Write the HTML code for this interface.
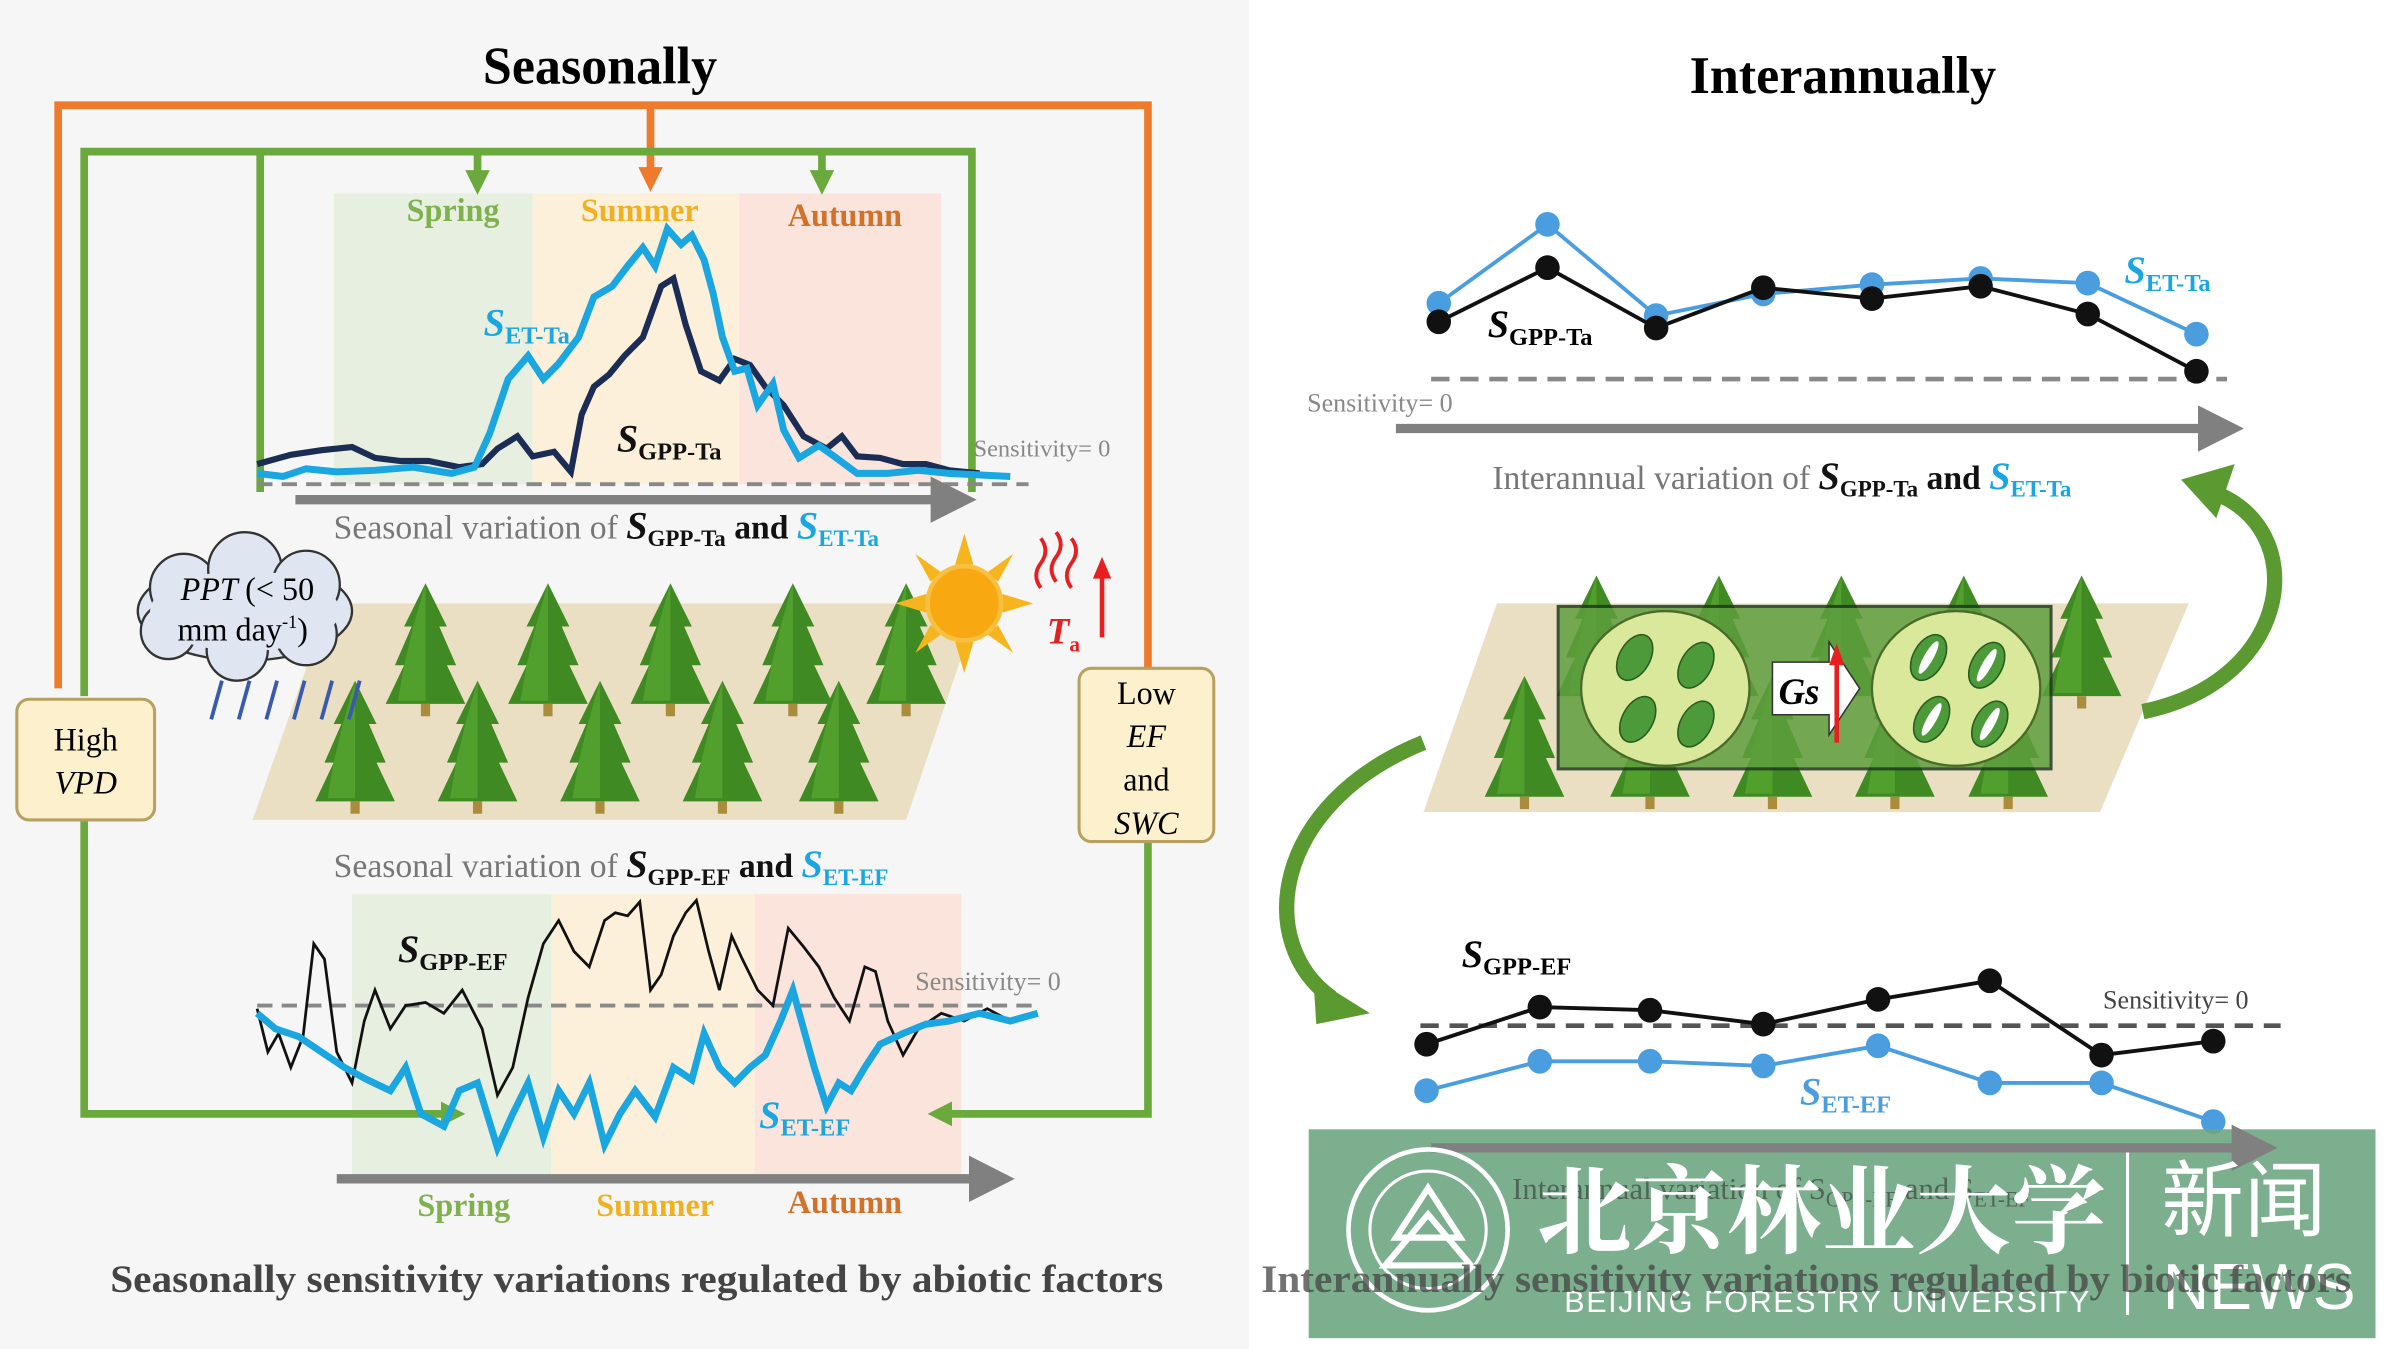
<!DOCTYPE html>
<html><head><meta charset="utf-8"><style>
html,body{margin:0;padding:0;background:#fff;}
svg{display:block;}
</style></head><body>
<svg width="2400" height="1349" viewBox="0 0 1568 872" preserveAspectRatio="none" xmlns="http://www.w3.org/2000/svg" font-family="Liberation Serif, serif">
<defs>
<marker id="ag" markerWidth="16" markerHeight="16" refX="8" refY="8" orient="auto" markerUnits="userSpaceOnUse"><path d="M0,0 L16,8 L0,16 Z" fill="#6aaa3c"/></marker>
<marker id="ao" markerWidth="16" markerHeight="16" refX="8" refY="8" orient="auto" markerUnits="userSpaceOnUse"><path d="M0,0 L16,8 L0,16 Z" fill="#ee7a2c"/></marker>
<marker id="agr" markerWidth="5" markerHeight="5" refX="2" refY="2.5" orient="auto" markerUnits="strokeWidth"><path d="M0,0 L5,2.5 L0,5 Z" fill="#808080"/></marker>
<g id="tree"><path d="M0,-48 L-14,-20 L-9,-20 L-20,5 L-14,5 L-26,30 L26,30 L14,5 L20,5 L9,-20 L14,-20 Z" fill="#3f8a22"/><path d="M0,-48 L-8,-20 L-14,5 L-18,28 L0,28 Z" fill="#5aa832" opacity=".7"/><rect x="-3" y="30" width="6" height="8" fill="#a98c3c"/></g>
</defs>
<rect x="0" y="0" width="816" height="872" fill="#f6f6f6"/>
<rect x="816" y="0" width="752" height="872" fill="#fff"/>

<text x="392" y="54" font-size="34" font-weight="bold" text-anchor="middle">Seasonally</text>
<text x="1204" y="60" font-size="34" font-weight="bold" text-anchor="middle">Interannually</text>

<rect x="218" y="125" width="130" height="188" fill="#e7efe1"/>
<rect x="348" y="125" width="135" height="188" fill="#fcf0da"/>
<rect x="483" y="125" width="132" height="188" fill="#fbe4dc"/>
<text x="296" y="143" font-size="21" font-weight="bold" fill="#7fb24e" text-anchor="middle">Spring</text>
<text x="418" y="143" font-size="21" font-weight="bold" fill="#f0b020" text-anchor="middle">Summer</text>
<text x="552" y="146" font-size="21" font-weight="bold" fill="#d2722a" text-anchor="middle">Autumn</text>

<rect x="230" y="578" width="130" height="182" fill="#e7efe1"/>
<rect x="360" y="578" width="133" height="182" fill="#fcf0da"/>
<rect x="493" y="578" width="135" height="182" fill="#fbe4dc"/>

<polyline points="38,445 38,68 750,68 750,432" fill="none" stroke="#ee7a2c" stroke-width="5"/>
<line x1="425" y1="68" x2="425" y2="116" stroke="#ee7a2c" stroke-width="5" marker-end="url(#ao)"/>
<polyline points="55,450 55,98 635,98 635,318" fill="none" stroke="#6aaa3c" stroke-width="5"/>
<line x1="170" y1="98" x2="170" y2="318" stroke="#6aaa3c" stroke-width="5"/>
<line x1="312" y1="98" x2="312" y2="118" stroke="#6aaa3c" stroke-width="5" marker-end="url(#ag)"/>
<line x1="537" y1="98" x2="537" y2="118" stroke="#6aaa3c" stroke-width="5" marker-end="url(#ag)"/>
<polyline points="55,530 55,720 296,720" fill="none" stroke="#6aaa3c" stroke-width="5" marker-end="url(#ag)"/>
<polyline points="750,542 750,720 614,720" fill="none" stroke="#6aaa3c" stroke-width="5" marker-end="url(#ag)"/>

<line x1="168" y1="313" x2="672" y2="313" stroke="#888" stroke-width="2.5" stroke-dasharray="10,6"/>
<line x1="193" y1="323" x2="620" y2="323" stroke="#808080" stroke-width="6" marker-end="url(#agr)"/>
<polyline points="168,300 190,294 210,291 230,289 245,296 262,298 280,298 300,302 315,300 325,290 338,282 348,295 362,292 373,305 380,268 388,250 398,242 408,230 420,218 432,185 440,180 448,210 458,240 470,246 480,232 490,236 500,250 512,262 525,282 540,290 550,282 560,295 575,296 590,300 605,300 620,304 640,306" fill="none" stroke="#1b2d54" stroke-width="4"/>
<polyline points="168,306 185,308 200,303 220,305 245,304 270,302 295,306 310,302 320,280 332,245 345,230 355,245 365,235 378,218 388,192 400,185 410,172 420,160 428,172 436,148 445,158 452,152 460,168 466,190 472,218 480,240 488,238 495,262 505,248 512,278 522,296 535,288 545,295 560,306 580,306 600,304 620,306 660,308" fill="none" stroke="#1aa6e0" stroke-width="4.5"/>
<text x="316" y="217" font-size="25" font-style="italic" font-weight="bold" fill="#1aa6e0">S<tspan font-size="16" dy="5" font-style="normal">ET-Ta</tspan></text>
<text x="403" y="292" font-size="25" font-style="italic" font-weight="bold" fill="#111">S<tspan font-size="16" dy="5" font-style="normal">GPP-Ta</tspan></text>
<text x="636" y="295" font-size="16" fill="#888">Sensitivity= 0</text>
<text x="218" y="348" font-size="22" fill="#777">Seasonal variation of <tspan fill="#111" font-style="italic" font-weight="bold" font-size="25">S</tspan><tspan fill="#111" font-size="15" dy="5" font-weight="bold">GPP-Ta</tspan><tspan dy="-5" fill="#111" font-weight="bold"> and </tspan><tspan fill="#1aa6e0" font-style="italic" font-weight="bold" font-size="25">S</tspan><tspan fill="#1aa6e0" font-size="15" dy="5" font-weight="bold">ET-Ta</tspan></text>

<polygon points="215,390 640,390 592,530 165,530" fill="#ebdfc3"/>
<use href="#tree" x="278" y="425"/><use href="#tree" x="358" y="425"/><use href="#tree" x="438" y="425"/><use href="#tree" x="518" y="425"/><use href="#tree" x="592" y="425"/>
<use href="#tree" x="232" y="488"/><use href="#tree" x="312" y="488"/><use href="#tree" x="392" y="488"/><use href="#tree" x="472" y="488"/><use href="#tree" x="548" y="488"/>

<g fill="#dfe6f1" stroke="#333" stroke-width="1.5">
<ellipse cx="160" cy="395" rx="70" ry="32"/>
<circle cx="120" cy="380" r="22"/><circle cx="160" cy="368" r="24"/><circle cx="200" cy="378" r="22"/><circle cx="110" cy="408" r="18"/><circle cx="200" cy="410" r="20"/><circle cx="155" cy="420" r="20"/>
</g>
<ellipse cx="160" cy="395" rx="62" ry="26" fill="#dfe6f1"/>
<text x="118" y="388" font-size="21" font-style="italic">PPT <tspan font-style="normal">(&lt; 50</tspan></text>
<text x="116" y="414" font-size="21">mm day<tspan font-size="12" dy="-8">-1</tspan><tspan dy="8">)</tspan></text>
<g stroke="#3a5ab0" stroke-width="2.5"><line x1="145" y1="440" x2="138" y2="465"/><line x1="163" y1="440" x2="156" y2="465"/><line x1="181" y1="440" x2="174" y2="465"/><line x1="199" y1="440" x2="192" y2="465"/><line x1="217" y1="440" x2="210" y2="465"/><line x1="235" y1="440" x2="228" y2="465"/></g>

<g fill="#f6b51e"><polygon points="630,345 636,365 624,365"/><polygon points="630,435 636,415 624,415"/><polygon points="585,390 605,384 605,396"/><polygon points="675,390 655,384 655,396"/><polygon points="598,358 615,370 608,376"/><polygon points="662,358 645,370 652,376"/><polygon points="598,422 615,410 608,404"/><polygon points="662,422 645,410 652,404"/></g>
<circle cx="630" cy="390" r="24" fill="#f8a810" stroke="#f7c040" stroke-width="3"/>
<g stroke="#e62020" stroke-width="2.5" fill="none"><path d="M680,348 q6,8 0,16 q-6,8 0,16"/><path d="M690,344 q6,8 0,16 q-6,8 0,16"/><path d="M700,348 q6,8 0,16 q-6,8 0,16"/></g>
<line x1="720" y1="412" x2="720" y2="372" stroke="#e62020" stroke-width="3"/><polygon points="714,374 720,360 726,374" fill="#e62020"/>
<text x="684" y="416" font-size="24" font-style="italic" font-weight="bold" fill="#e62020">T<tspan font-size="14" dy="5" font-style="normal">a</tspan></text>

<rect x="11" y="452" width="90" height="78" rx="8" fill="#fdf0cc" stroke="#b8a060" stroke-width="2"/>
<text x="56" y="485" font-size="21" text-anchor="middle">High</text>
<text x="56" y="513" font-size="21" font-style="italic" text-anchor="middle">VPD</text>
<rect x="705" y="432" width="88" height="112" rx="8" fill="#fdf0cc" stroke="#b8a060" stroke-width="2"/>
<text x="749" y="455" font-size="21" text-anchor="middle">Low</text>
<text x="749" y="483" font-size="21" font-style="italic" text-anchor="middle">EF</text>
<text x="749" y="511" font-size="21" text-anchor="middle">and</text>
<text x="749" y="539" font-size="21" font-style="italic" text-anchor="middle">SWC</text>

<text x="218" y="567" font-size="22" fill="#777">Seasonal variation of <tspan fill="#111" font-style="italic" font-weight="bold" font-size="25">S</tspan><tspan fill="#111" font-size="15" dy="5" font-weight="bold">GPP-EF</tspan><tspan dy="-5" fill="#111" font-weight="bold"> and </tspan><tspan fill="#1aa6e0" font-style="italic" font-weight="bold" font-size="25">S</tspan><tspan fill="#1aa6e0" font-size="15" dy="5" font-weight="bold">ET-EF</tspan></text>
<line x1="168" y1="650" x2="680" y2="650" stroke="#888" stroke-width="2.5" stroke-dasharray="10,6"/>
<polyline points="168,652 175,680 182,668 190,690 198,670 205,610 212,620 220,680 230,700 238,660 245,640 255,665 265,650 278,648 290,655 302,640 315,665 325,708 335,690 345,645 355,610 365,595 375,615 385,625 395,595 402,590 410,592 418,583 425,640 432,630 440,605 448,590 455,582 463,615 470,640 478,605 485,620 495,640 505,650 515,600 525,612 535,625 545,645 555,660 565,625 572,628 580,660 590,682 600,665 615,655 630,660 645,652 660,660 675,655" fill="none" stroke="#111" stroke-width="1.8"/>
<polyline points="168,655 180,665 195,670 210,680 225,690 240,698 255,705 265,690 275,720 290,728 300,705 312,700 325,742 335,720 345,700 355,735 365,705 375,720 385,700 395,740 405,720 415,705 428,722 440,690 452,698 460,668 470,690 480,700 490,690 500,682 510,660 518,640 525,665 532,690 540,715 548,700 556,705 565,690 575,675 590,668 605,662 620,660 640,655 660,660 678,655" fill="none" stroke="#1aa6e0" stroke-width="4.5"/>
<text x="260" y="622" font-size="25" font-style="italic" font-weight="bold" fill="#111">S<tspan font-size="16" dy="5" font-style="normal">GPP-EF</tspan></text>
<text x="496" y="729" font-size="25" font-style="italic" font-weight="bold" fill="#1aa6e0">S<tspan font-size="16" dy="5" font-style="normal">ET-EF</tspan></text>
<text x="598" y="640" font-size="17" fill="#888">Sensitivity= 0</text>
<line x1="220" y1="762" x2="645" y2="762" stroke="#808080" stroke-width="6" marker-end="url(#agr)"/>
<text x="303" y="786" font-size="21" font-weight="bold" fill="#7fb24e" text-anchor="middle">Spring</text>
<text x="428" y="786" font-size="21" font-weight="bold" fill="#f0b020" text-anchor="middle">Summer</text>
<text x="552" y="784" font-size="21" font-weight="bold" fill="#d2722a" text-anchor="middle">Autumn</text>
<text x="416" y="835" font-size="25" font-weight="bold" fill="#444" text-anchor="middle" textLength="688" lengthAdjust="spacingAndGlyphs">Seasonally sensitivity variations regulated by abiotic factors</text>

<line x1="935" y1="245" x2="1455" y2="245" stroke="#888" stroke-width="3" stroke-dasharray="12,7"/>
<line x1="912" y1="277" x2="1448" y2="277" stroke="#808080" stroke-width="6" marker-end="url(#agr)"/>
<polyline points="940,196 1011,145 1082,204 1152,190 1223,184 1294,180 1364,183 1435,216" fill="none" stroke="#4a9ee0" stroke-width="2.5"/>
<g fill="#4a9ee0"><circle cx="940" cy="196" r="8"/><circle cx="1011" cy="145" r="8"/><circle cx="1082" cy="204" r="8"/><circle cx="1152" cy="190" r="8"/><circle cx="1223" cy="184" r="8"/><circle cx="1294" cy="180" r="8"/><circle cx="1364" cy="183" r="8"/><circle cx="1435" cy="216" r="8"/></g>
<polyline points="940,208 1011,173 1082,212 1152,186 1223,193 1294,185 1364,203 1435,240" fill="none" stroke="#111" stroke-width="2.5"/>
<g fill="#111"><circle cx="940" cy="208" r="8"/><circle cx="1011" cy="173" r="8"/><circle cx="1082" cy="212" r="8"/><circle cx="1152" cy="186" r="8"/><circle cx="1223" cy="193" r="8"/><circle cx="1294" cy="185" r="8"/><circle cx="1364" cy="203" r="8"/><circle cx="1435" cy="240" r="8"/></g>
<text x="972" y="218" font-size="25" font-style="italic" font-weight="bold">S<tspan font-size="16" dy="5" font-style="normal">GPP-Ta</tspan></text>
<text x="1388" y="183" font-size="25" font-style="italic" font-weight="bold" fill="#1aa6e0">S<tspan font-size="16" dy="5" font-style="normal">ET-Ta</tspan></text>
<text x="854" y="266" font-size="17" fill="#888">Sensitivity= 0</text>
<text x="975" y="316" font-size="22" fill="#777">Interannual variation of <tspan fill="#111" font-style="italic" font-weight="bold" font-size="25">S</tspan><tspan fill="#111" font-size="15" dy="5" font-weight="bold">GPP-Ta</tspan><tspan dy="-5" fill="#111" font-weight="bold"> and </tspan><tspan fill="#1aa6e0" font-style="italic" font-weight="bold" font-size="25">S</tspan><tspan fill="#1aa6e0" font-size="15" dy="5" font-weight="bold">ET-Ta</tspan></text>

<polygon points="978,390 1430,390 1372,525 930,525" fill="#ebdfc3"/>
<use href="#tree" x="1043" y="420"/><use href="#tree" x="1123" y="420"/><use href="#tree" x="1203" y="420"/><use href="#tree" x="1283" y="420"/><use href="#tree" x="1360" y="420"/>
<use href="#tree" x="996" y="485"/><use href="#tree" x="1078" y="485"/><use href="#tree" x="1158" y="485"/><use href="#tree" x="1238" y="485"/><use href="#tree" x="1312" y="485"/>
<rect x="1018" y="392" width="322" height="105" fill="#5f9e3e" opacity=".85" stroke="#1e3a20" stroke-width="2"/>
<ellipse cx="1088" cy="445" rx="55" ry="50" fill="#d9e89a" stroke="#4a6a2a" stroke-width="1.5"/>
<ellipse cx="1278" cy="445" rx="55" ry="50" fill="#d9e89a" stroke="#4a6a2a" stroke-width="1.5"/>
<g fill="#4d9a3a" stroke="#2a5a20"><ellipse cx="1068" cy="425" rx="10" ry="16" transform="rotate(30 1068 425)"/><ellipse cx="1108" cy="430" rx="10" ry="16" transform="rotate(30 1108 430)"/><ellipse cx="1070" cy="465" rx="10" ry="16" transform="rotate(30 1070 465)"/><ellipse cx="1108" cy="468" rx="10" ry="16" transform="rotate(30 1108 468)"/>
<ellipse cx="1260" cy="425" rx="10" ry="16" transform="rotate(30 1260 425)"/><ellipse cx="1298" cy="430" rx="10" ry="16" transform="rotate(30 1298 430)"/><ellipse cx="1262" cy="465" rx="10" ry="16" transform="rotate(30 1262 465)"/><ellipse cx="1300" cy="468" rx="10" ry="16" transform="rotate(30 1300 468)"/></g>
<g fill="#fff"><ellipse cx="1260" cy="425" rx="3" ry="12" transform="rotate(30 1260 425)"/><ellipse cx="1298" cy="430" rx="3" ry="12" transform="rotate(30 1298 430)"/><ellipse cx="1262" cy="465" rx="3" ry="12" transform="rotate(30 1262 465)"/><ellipse cx="1300" cy="468" rx="3" ry="12" transform="rotate(30 1300 468)"/></g>
<polygon points="1158,428 1195,428 1195,415 1215,445 1195,475 1195,462 1158,462" fill="#fff" stroke="#333"/>
<text x="1162" y="455" font-size="24" font-style="italic" font-weight="bold">Gs</text>
<line x1="1200" y1="480" x2="1200" y2="428" stroke="#e62020" stroke-width="3"/><polygon points="1195,430 1200,416 1205,430" fill="#e62020"/>
<path d="M1400,460 C1500,440 1510,340 1445,318" fill="none" stroke="#5a9a30" stroke-width="10"/>
<polygon points="1425,310 1460,300 1448,335" fill="#5a9a30"/>
<path d="M930,480 C830,520 820,610 870,645" fill="none" stroke="#5a9a30" stroke-width="10"/>
<polygon points="858,632 895,655 860,662" fill="#5a9a30"/>

<text x="955" y="625" font-size="25" font-style="italic" font-weight="bold">S<tspan font-size="16" dy="5" font-style="normal">GPP-EF</tspan></text>
<text x="1374" y="652" font-size="17" fill="#444">Sensitivity= 0</text>
<line x1="928" y1="663" x2="1490" y2="663" stroke="#555" stroke-width="3" stroke-dasharray="12,7"/>
<polyline points="932,705 1006,686 1078,686 1152,689 1227,676 1300,700 1373,700 1446,725" fill="none" stroke="#4a9ee0" stroke-width="2.5"/>
<g fill="#4a9ee0"><circle cx="932" cy="705" r="8"/><circle cx="1006" cy="686" r="8"/><circle cx="1078" cy="686" r="8"/><circle cx="1152" cy="689" r="8"/><circle cx="1227" cy="676" r="8"/><circle cx="1300" cy="700" r="8"/><circle cx="1373" cy="700" r="8"/><circle cx="1446" cy="725" r="8"/></g>
<polyline points="932,675 1006,651 1078,653 1152,662 1227,646 1300,634 1373,682 1446,673" fill="none" stroke="#111" stroke-width="2.5"/>
<g fill="#111"><circle cx="932" cy="675" r="8"/><circle cx="1006" cy="651" r="8"/><circle cx="1078" cy="653" r="8"/><circle cx="1152" cy="662" r="8"/><circle cx="1227" cy="646" r="8"/><circle cx="1300" cy="634" r="8"/><circle cx="1373" cy="682" r="8"/><circle cx="1446" cy="673" r="8"/></g>
<text x="1176" y="714" font-size="25" font-style="italic" font-weight="bold" fill="#4a9ee0">S<tspan font-size="16" dy="5" font-style="normal">ET-EF</tspan></text>

<rect x="855" y="730" width="697" height="135" fill="#6ea682" opacity=".9"/>
<line x1="935" y1="742" x2="1470" y2="742" stroke="#808080" stroke-width="6" marker-end="url(#agr)"/>
<text x="988" y="775" font-size="20" fill="#333" opacity=".6">Interannual variation of S<tspan font-size="14" dy="5">GPP-EF</tspan><tspan dy="-5"> and S</tspan><tspan font-size="14" dy="5">ET-EF</tspan></text>
<circle cx="933" cy="795" r="52" fill="none" stroke="#fff" stroke-width="3"/>
<circle cx="933" cy="795" r="38" fill="none" stroke="#fff" stroke-width="2"/>
<polygon points="933,768 912,800 954,800" fill="none" stroke="#fff" stroke-width="4"/>
<polygon points="933,785 905,818 961,818" fill="none" stroke="#fff" stroke-width="4"/>
<text x="1190" y="805" font-size="62" font-weight="bold" fill="#fff" text-anchor="middle" style="font-family:'Noto Serif CJK SC','Noto Sans CJK SC',serif">北京林业大学</text>
<line x1="1390" y1="745" x2="1390" y2="850" stroke="#fff" stroke-width="2"/>
<text x="1412" y="795" font-size="54" fill="#fff" style="font-family:'Noto Sans CJK SC',sans-serif">新闻</text>
<text x="1413" y="846" font-size="42" fill="#fff" style="font-family:'Liberation Sans',sans-serif">NEWS</text>
<text x="1022" y="848" font-size="20" fill="#fff" style="font-family:'Liberation Sans',sans-serif" letter-spacing="1">BEIJING FORESTRY UNIVERSITY</text>
<text x="1180" y="835" font-size="25" font-weight="bold" fill="#444" text-anchor="middle" opacity=".75" textLength="712" lengthAdjust="spacingAndGlyphs">Interannually sensitivity variations regulated by biotic factors</text>
</svg>
</body></html>
